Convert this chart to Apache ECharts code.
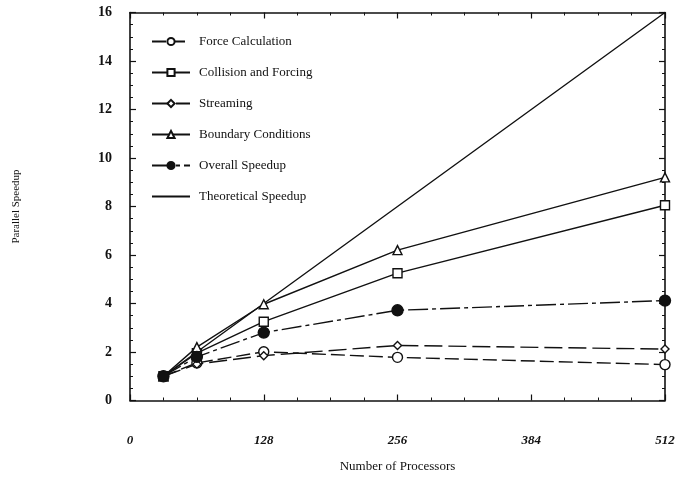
<!DOCTYPE html>
<html>
<head>
<meta charset="utf-8">
<script src="https://cdn.jsdelivr.net/npm/echarts@6/dist/echarts.min.js"></script>
<style>
  html, body { margin: 0; padding: 0; background: #fff; }
  #chart { width: 678px; height: 482px; }
</style>
</head>
<body>
<div id="chart"></div>
<script>
// Processor counts and measured speedups per solver phase
const processors = [32, 64, 128, 256, 512];
const forceCalculation = [1.0, 1.55, 2.01, 1.78, 1.48];
const collisionForcing = [1.0, 1.95, 3.25, 5.25, 8.05];
const streaming = [1.0, 1.5, 1.85, 2.27, 2.12];
const boundaryConditions = [1.0, 2.2, 3.97, 6.2, 9.2];
const overallSpeedup = [1.0, 1.8, 2.8, 3.72, 4.12];
const theoreticalSpeedup = [1, 2, 4, 8, 16];
const xTicks = [0, 128, 256, 384, 512];
const yTicks = [0, 2, 4, 6, 8, 10, 12, 14, 16];

const ink = '#111';
const serif = '"Liberation Serif", "DejaVu Serif", serif';

function pairs(vals) {
  return processors.map((p, i) => [p, vals[i]]);
}

function mkSeries(name, vals, symbol, size, filled, type) {
  return {
    name, type: 'line', data: pairs(vals),
    symbol: symbol, symbolSize: size, showSymbol: symbol !== 'none',
    lineStyle: { color: ink, width: 1.4, type: type },
    itemStyle: { color: filled ? ink : '#fff', borderColor: ink, borderWidth: 1.4 },
    emphasis: { disabled: true },
    z: filled ? 4 : 3
  };
}

// Shared look for the four sides of the frame: ticks point into the plot
function frameAxis(extra) {
  return Object.assign({
    axisLine: { show: true, onZero: false, lineStyle: { color: ink, width: 1.6 } },
    axisTick: { show: true, inside: true, length: 6, lineStyle: { color: ink, width: 1.2 } },
    minorTick: { show: true, splitNumber: 4, length: 3, lineStyle: { color: ink, width: 1 } },
    splitLine: { show: false }
  }, extra);
}

const chart = echarts.init(document.getElementById('chart'));
chart.setOption({
  backgroundColor: '#fff',
  animation: false,
  grid: { left: 130, right: 13, top: 12.5, bottom: 81.5 },
  xAxis: [
    frameAxis({
      type: 'value', min: 0, max: 512, interval: 128, position: 'bottom',
      name: 'Number of Processors', nameLocation: 'middle', nameGap: 60,
      nameTextStyle: { fontFamily: serif, fontSize: 13, color: ink },
      axisLabel: {
        margin: 34, fontFamily: serif, fontSize: 13, fontWeight: 'bold', fontStyle: 'italic', color: ink,
        customValues: xTicks
      }
    }),
    frameAxis({
      type: 'value', min: 0, max: 512, interval: 128, position: 'top',
      axisLabel: { show: false }
    })
  ],
  yAxis: [
    frameAxis({
      type: 'value', min: 0, max: 16, interval: 2, position: 'left',
      name: 'Parallel Speedup', nameLocation: 'middle', nameGap: 108,
      nameTextStyle: { fontFamily: serif, fontSize: 11, color: ink },
      axisLabel: {
        margin: 18, fontFamily: serif, fontSize: 14, fontWeight: 'bold', color: ink,
        customValues: yTicks
      }
    }),
    frameAxis({
      type: 'value', min: 0, max: 16, interval: 2, position: 'right',
      axisLabel: { show: false }
    })
  ],
  legend: {
    orient: 'vertical', left: 146, top: 30,
    itemWidth: 38, itemHeight: 9, itemGap: 18,
    textStyle: { fontFamily: serif, fontSize: 13, color: ink, padding: [0, 0, 0, 4] },
    data: [
      { name: 'Force Calculation' },
      { name: 'Collision and Forcing' },
      { name: 'Streaming' },
      { name: 'Boundary Conditions' },
      { name: 'Overall Speedup' },
      { name: 'Theoretical Speedup', itemStyle: { opacity: 0 } }
    ]
  },
  series: [
    mkSeries('Force Calculation', forceCalculation, 'circle', 10, false, [14, 5]),
    mkSeries('Collision and Forcing', collisionForcing, 'rect', 9, false, 'solid'),
    mkSeries('Streaming', streaming, 'diamond', 8, false, [18, 6]),
    mkSeries('Boundary Conditions', boundaryConditions, 'triangle', 9, false, 'solid'),
    mkSeries('Overall Speedup', overallSpeedup, 'circle', 11, true, [20, 4, 4, 4]),
    mkSeries('Theoretical Speedup', theoreticalSpeedup, 'none', 0, false, 'solid')
  ]
});
</script>
</body>
</html>
